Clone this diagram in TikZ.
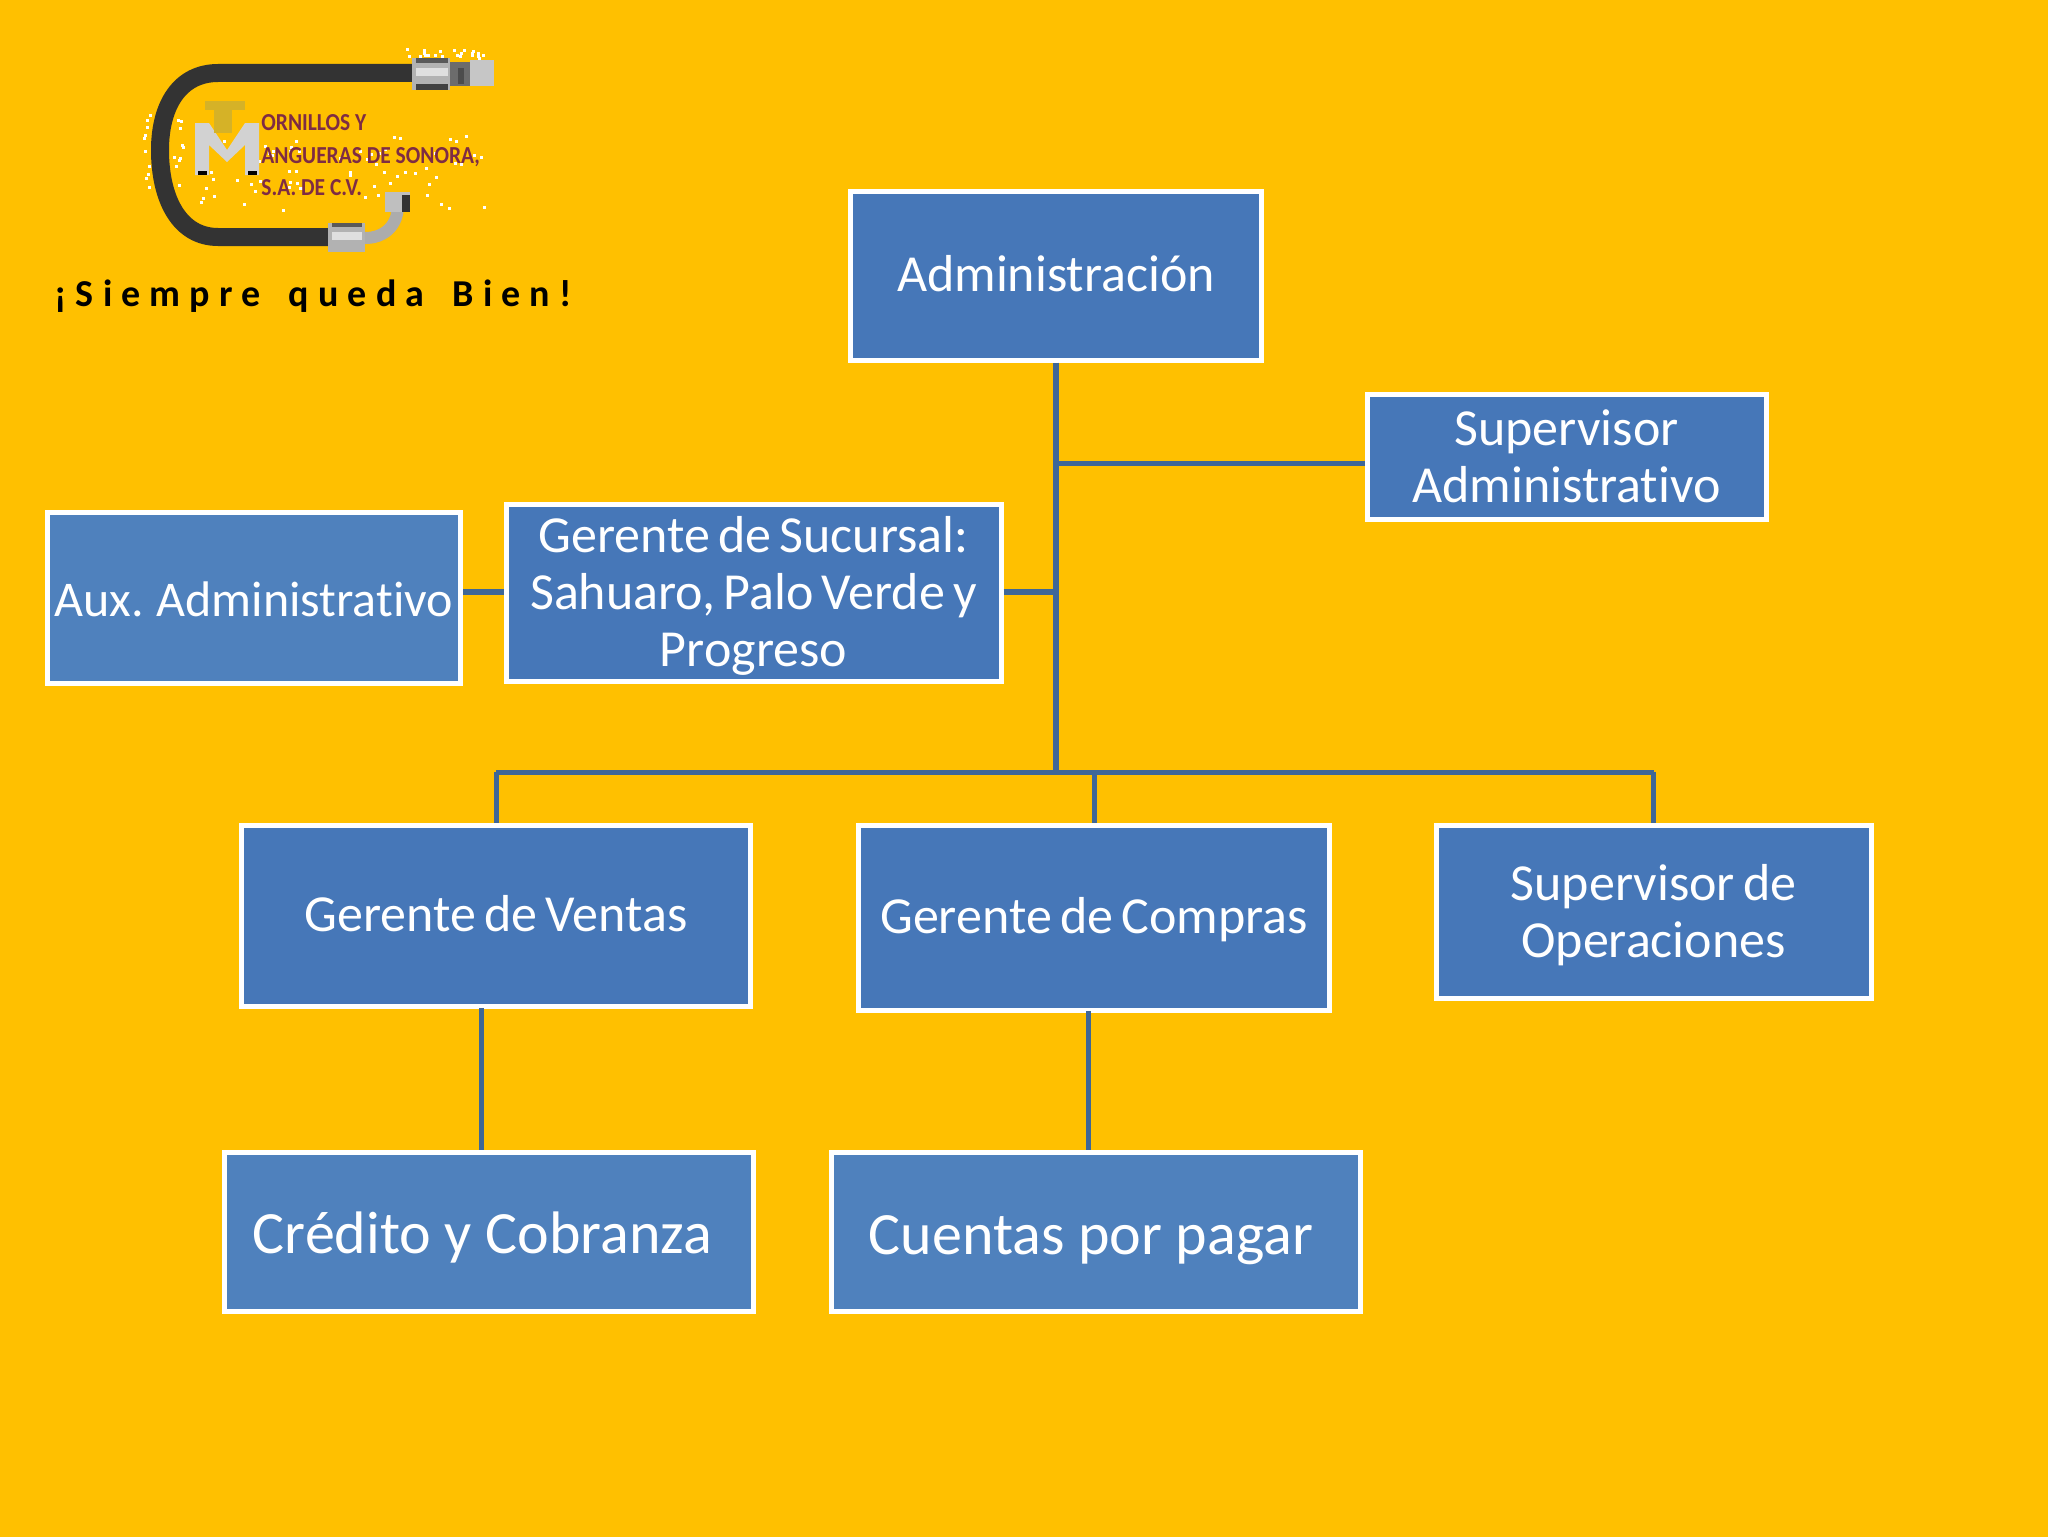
\documentclass[tikz,border=0pt]{standalone}
\usepackage{fontspec}
\setmainfont[Ligatures=NoCommon]{Carlito}
\newfontfamily\slimfont[FakeStretch=1.0,WordSpace=0.7,Ligatures=NoCommon]{Carlito}
\newfontfamily\auxfont[WordSpace=0.75,Ligatures=NoCommon]{Carlito}
\newfontfamily\logofont[FakeStretch=0.88,Ligatures=NoCommon]{Carlito Bold}
\newfontfamily\sloganfont[LetterSpace=24,WordSpace=1.6]{Carlito Bold}
\newcommand{\shiftt}[2]{\raisebox{#1}[\height][\depth]{#2}}
\newcommand{\stk}[1]{\begin{tabular}{@{}c@{}}#1\end{tabular}}
\definecolor{bgy}{HTML}{FFC000}
\definecolor{boxa}{HTML}{4677B8}
\definecolor{boxb}{HTML}{4F81BD}
\definecolor{linec}{HTML}{3F6797}
\definecolor{hose}{HTML}{333333}
\definecolor{logored}{HTML}{7E2C44}
\usetikzlibrary{calc}
\tikzset{
  bx/.style={draw=white,line width=2.5pt,fill=boxa,text=white,align=center,inner sep=0pt,
    font=\slimfont\fontsize{26}{28.4}\selectfont},
  bxl/.style={bx,fill=boxb,font=\fontsize{30}{34}\selectfont},
  conn/.style={draw=linec,line width=2.5pt},
  connb/.style={draw=linec,line width=3.4pt},
  logotxt/.style={inner sep=0pt,anchor=base west,text=logored,font=\logofont\fontsize{12.2}{13}\selectfont},
}
\begin{document}
\begin{tikzpicture}[x=0.5pt,y=-0.5pt]
\useasboundingbox (0,0) rectangle (2048,1536);
\fill[bgy] (-6,-6) rectangle (2054,1542);
\coordinate (busy) at (0,772);
\coordinate (vx) at (481,1008);
\coordinate (cx) at (1088,1011);
\node[bx,minimum width=205.5pt,minimum height=84.5pt] (admin) at (1056,275.5) {\shiftt{1pt}{Administración}};
\node[bx,minimum width=199.5pt,minimum height=62.5pt] (supadm) at (1566.5,457) {\shiftt{-3pt}{\stk{Supervisor\\Administrativo}}};
\node[bx,minimum width=247.5pt,minimum height=88.5pt] (suc) at (753.5,593) {\shiftt{-2.6pt}{\stk{Gerente de Sucursal:\\Sahuaro, Palo Verde y\\Progreso}}};
\node[bxl,font=\auxfont\fontsize{25}{30}\selectfont,minimum width=206.5pt,minimum height=85.5pt] (aux) at (254,597.5) {\shiftt{-0.7pt}{Aux. Administrativo}};
\node[bx,minimum width=254.5pt,minimum height=90.5pt] (ventas) at (496,916) {\shiftt{1.3pt}{Gerente de Ventas}};
\node[bx,minimum width=235.5pt,minimum height=92.5pt] (compras) at (1094,917.5) {\shiftt{-1.3pt}{Gerente de Compras}};
\node[bx,minimum width=217.5pt,minimum height=86.5pt] (supop) at (1653.5,912) {\shiftt{-2.9pt}{\stk{Supervisor de\\Operaciones}}};
\node[bxl,minimum width=264.5pt,minimum height=79.5pt] (cred) at (488.5,1232) {\shiftt{-2.6pt}{\hspace*{-6pt}Crédito y Cobranza}};
\node[bxl,minimum width=264.5pt,minimum height=79.5pt] (cuen) at (1096,1232) {\shiftt{-3.9pt}{\hspace*{-5pt}Cuentas por pagar}};
% trunk and bus
\draw[connb] (admin.south) -- (admin.south |- busy);
\draw[conn] (ventas.north |- busy) -- (supop.north |- busy);
\draw[conn] (ventas.north |- busy) -- (ventas.north);
\draw[conn] (compras.north |- busy) -- (compras.north);
\draw[conn] (supop.north |- busy) -- (supop.north);
\coordinate (j1) at (admin.south |- 0,463);
\coordinate (j1e) at (supadm.west |- 0,463);
\draw[conn] (j1) -- (j1e);
\coordinate (j2) at (suc.east |- 0,592);
\coordinate (j2t) at (admin.south |- 0,592);
\draw[connb] (j2) -- (j2t);
\coordinate (j3) at (aux.east |- 0,592);
\coordinate (j3e) at (suc.west |- 0,592);
\draw[connb] (j3) -- (j3e);
\draw[conn] (vx) -- (vx |- cred.north);
\draw[conn] (cx) -- (cx |- cuen.north);
% logo: hose
\draw[hose,line width=9pt] (414,73) -- (218,73) .. controls (180,73) and (160,105) .. (160,150) .. controls (160,200) and (180,237) .. (218,237) -- (330,237);
% white specks
\pgfmathsetseed{11}
\foreach \i in {1,...,70}{\pgfmathsetmacro{\sx}{200+rnd*290}\pgfmathsetmacro{\sy}{135+rnd*75}\fill[white] (\sx,\sy) rectangle +(3,3);}
\foreach \i in {1,...,22}{\pgfmathsetmacro{\sx}{405+rnd*90}\pgfmathsetmacro{\sy}{48+rnd*9}\fill[white] (\sx,\sy) rectangle +(3,3);}
\foreach \i in {1,...,10}{\pgfmathsetmacro{\sx}{143+rnd*6}\pgfmathsetmacro{\sy}{110+rnd*80}\fill[white] (\sx,\sy) rectangle +(3,3);}
\foreach \i in {1,...,10}{\pgfmathsetmacro{\sx}{172+rnd*10}\pgfmathsetmacro{\sy}{110+rnd*80}\fill[white] (\sx,\sy) rectangle +(3,3);}
% upper fitting
\fill[gray!60] (412,58) rectangle (450,90);
\fill[black!75] (416,84) rectangle (448,90);
\fill[black!65] (416,58) rectangle (448,63);
\fill[gray!85!black] (450,62) rectangle (470,86);
\fill[black!70] (458,68) rectangle (464,84);
\fill[gray!45] (470,60) rectangle (494,86);
\fill[gray!25] (416,68) rectangle (448,76);
% lower fitting
\fill[gray!60] (328,223) rectangle (365,252);
\fill[gray!25] (332,232) rectangle (362,240);
\fill[black!65] (332,223) rectangle (362,227);
\draw[gray!65,line width=6pt] (365,238) .. controls (385,238) and (398,225) .. (398,205);
\fill[gray!50] (385,192) rectangle (410,212);
\fill[hose] (402,195) rectangle (410,212);
% logo letters
\fill[gray!35] (195,175) -- (195,123) -- (209,123) -- (227,150) -- (245,123) -- (259,123) -- (259,175) -- (245,175) -- (245,145) -- (227,162) -- (209,145) -- (209,175) -- cycle;
\fill[black] (198,171) rectangle (207,175);
\fill[black] (248,171) rectangle (257,175);
\fill[black!25!yellow!70!orange] (205,101) rectangle (245,110);
\fill[black!25!yellow!70!orange] (214,110) rectangle (232,133);
\node[logotxt] (l1) at (261,130) {ORNILLOS Y};
\node[logotxt] (l2) at (261,163) {ANGUERAS DE SONORA,};
\node[logotxt] (l3) at (261,195) {S.A. DE C.V.};
\node[inner sep=0pt,anchor=base west,font=\sloganfont\fontsize{19}{21}\selectfont] (slogan) at (54,306) {¡Siempre queda Bien!};
\end{tikzpicture}
\end{document}
